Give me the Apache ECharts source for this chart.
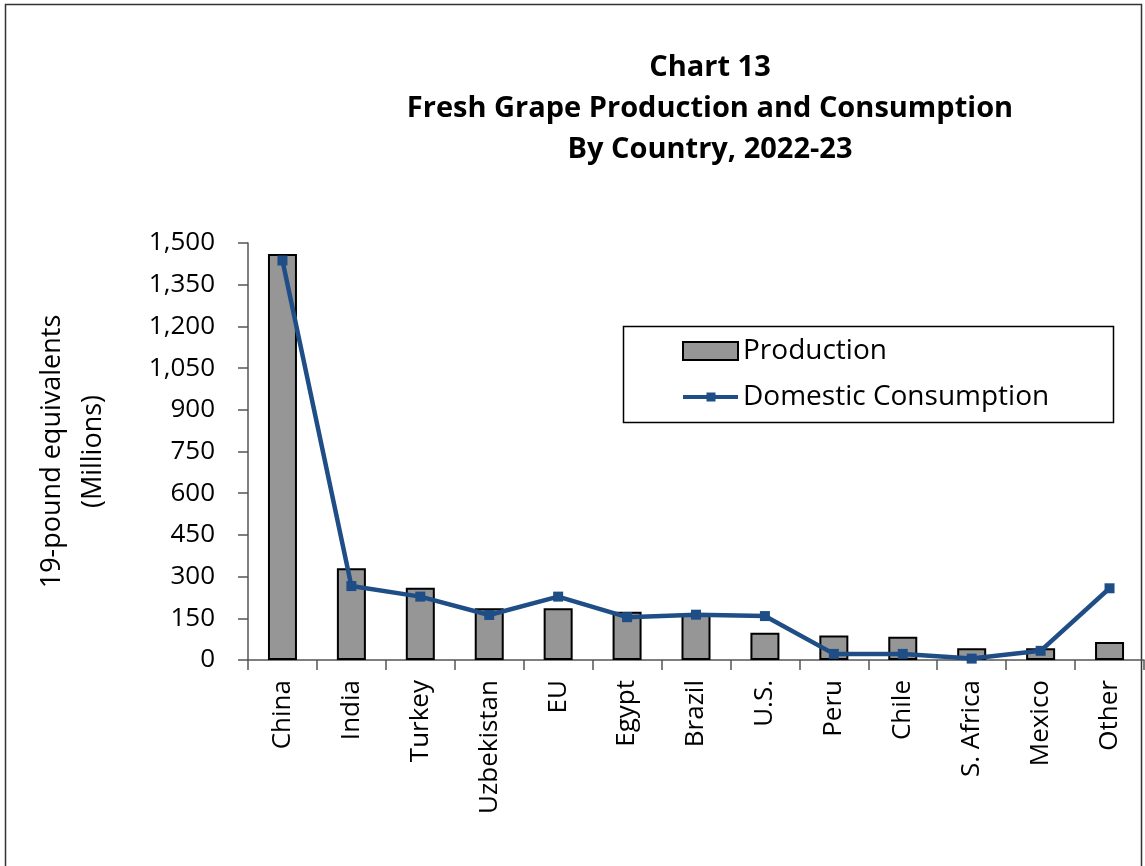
<!DOCTYPE html>
<html><head><meta charset="utf-8">
<script src="https://cdn.jsdelivr.net/npm/echarts@6/dist/echarts.min.js"></script>
<style>html,body{margin:0;padding:0;background:#fff}#c{width:1145px;height:866px}</style>
</head><body><div id="c"></div>
<script>
const categories = ['China','India','Turkey','Uzbekistan','EU','Egypt','Brazil','U.S.','Peru','Chile','S. Africa','Mexico','Other'];
const production = [1460, 330, 260, 186, 186, 174, 165, 98, 88, 84, 42, 42, 65];
const consumption = [1437, 266, 228, 162, 228, 154, 163, 158, 22, 22, 5, 33, 258];
const yTicks = [0, 150, 300, 450, 600, 750, 900, 1050, 1200, 1350, 1500];
const titleLines = ['Chart 13', 'Fresh Grape Production and Consumption', 'By Country, 2022-23'];
const FONT = 'Open Sans';
const chart = echarts.init(document.getElementById('c'));
chart.setOption({
  animation: false,
  textStyle: {fontFamily: FONT},
  title: {
    text: titleLines.join('\n'),
    left: 705, top: 42, textAlign: 'center',
    textStyle: {fontFamily: FONT, fontWeight: 'bold', fontSize: 29, lineHeight: 41, color: '#000'}
  },
  graphic: [
    {type: 'rect', shape: {x: 5.5, y: 4.5, width: 1136, height: 900}, style: {fill: 'none', stroke: '#333', lineWidth: 1.5}, silent: true},
    {type: 'rect', shape: {x: 623.5, y: 326.5, width: 490, height: 96}, style: {fill: 'none', stroke: '#000', lineWidth: 1.5}, silent: true}
  ],
  legend: {
    orient: 'vertical', left: 623, top: 326,
    padding: [10, 10, 10, 59],
    itemGap: 16, itemWidth: 55, itemHeight: 18,
    textStyle: {fontFamily: FONT, fontSize: 28, lineHeight: 30, color: '#000', padding: [0, 0, 0, 0]},
    data: [
      {name: 'Production', icon: 'rect'},
      {name: 'Domestic Consumption', icon: 'path://M0,2.5h55v4h-55zM23.5,0h9v9h-9z'}
    ]
  },
  grid: {left: 248, right: 1, top: 243, bottom: 866 - 660, containLabel: false},
  xAxis: {
    type: 'category', data: categories,
    axisLine: {lineStyle: {color: '#555', width: 1.5}},
    axisTick: {show: true, length: 10, lineStyle: {color: '#555', width: 1.5}},
    axisLabel: {rotate: 90, fontSize: 26, color: '#000', margin: 20, fontFamily: FONT}
  },
  yAxis: {
    type: 'value', min: 0, max: 1500, interval: 150,
    name: '19-pound equivalents\n(Millions)', nameLocation: 'middle', nameGap: 134, nameRotate: 90,
    nameTextStyle: {fontSize: 27, color: '#000', lineHeight: 41, fontFamily: FONT},
    axisLine: {show: true, lineStyle: {color: '#555', width: 1.5}},
    axisTick: {show: true, length: 10, inside: false, lineStyle: {color: '#555', width: 1.5}},
    splitLine: {show: false},
    axisLabel: {fontSize: 26, color: '#000', margin: 33, fontFamily: FONT,
      formatter: v => yTicks.includes(v) ? v.toLocaleString('en-US') : ''}
  },
  series: [
    {name: 'Production', type: 'bar', data: production, barWidth: 29,
     itemStyle: {color: '#969696', borderColor: '#000', borderWidth: 2}},
    {name: 'Domestic Consumption', type: 'line', data: consumption,
     symbol: 'rect', symbolSize: 10,
     lineStyle: {color: '#1f4e87', width: 4.5},
     itemStyle: {color: '#1f4e87'}}
  ]
});
</script></body></html>
